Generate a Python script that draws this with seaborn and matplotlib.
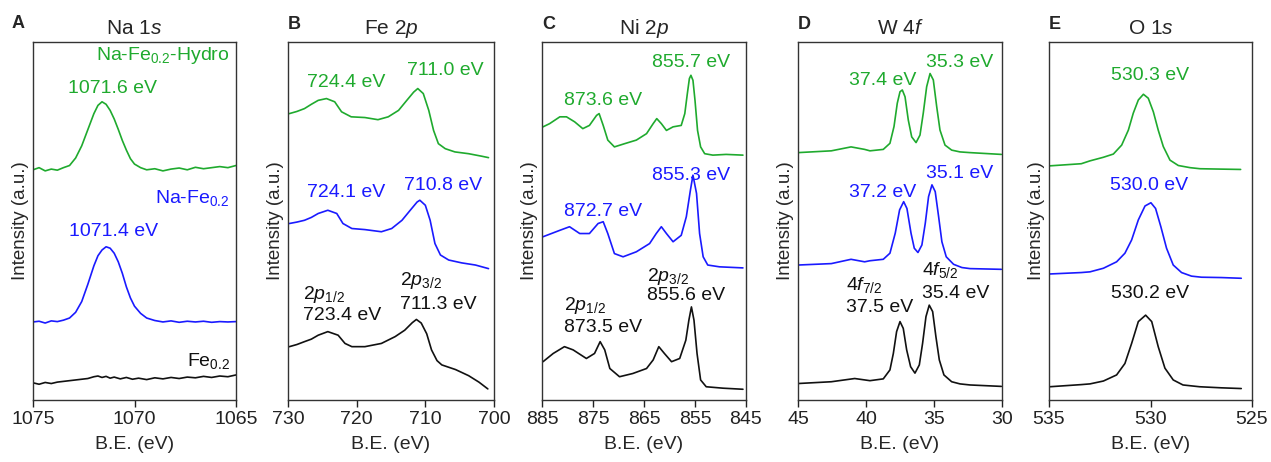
import pandas as pd
import matplotlib
matplotlib.use("Agg")
import matplotlib.pyplot as plt
import seaborn as sns

sns.set_style("ticks")
plt.rcParams["font.family"] = ["Liberation Sans", "DejaVu Sans"]
plt.rcParams["mathtext.fontset"] = "custom"
plt.rcParams["mathtext.rm"] = "Liberation Sans"
plt.rcParams["mathtext.it"] = "Liberation Sans:italic"

GREEN = "#1faa2e"
BLUE = "#1a1aff"
BLACK = "#111111"
samples = ["Na-Fe0.2-Hydro", "Na-Fe0.2", "Fe0.2"]
palette = {"Na-Fe0.2-Hydro": GREEN, "Na-Fe0.2": BLUE, "Fe0.2": BLACK}

# ---- Na 1s ----
na_x_hydro = [1075.0, 1074.7, 1074.4, 1074.1, 1073.8, 1073.5, 1073.2, 1072.9, 1072.6, 1072.3, 1072.0,
              1071.8, 1071.6, 1071.4, 1071.2, 1071.0, 1070.8, 1070.6, 1070.4, 1070.2, 1070.0, 1069.7,
              1069.4, 1069.0, 1068.6, 1068.2, 1067.8, 1067.4, 1067.0, 1066.6, 1066.2, 1065.8, 1065.4, 1065.0]
na_y_hydro = [64.3, 64.9, 64.0, 64.5, 64.2, 64.9, 65.5, 67.6, 71.0, 75.5, 80.0,
              82.3, 83.3, 82.6, 80.9, 78.5, 75.6, 72.5, 69.8, 67.4, 65.9, 64.9,
              64.3, 64.6, 64.0, 64.5, 64.8, 64.3, 65.0, 64.6, 64.9, 65.2, 64.9, 65.5]
na_x_nafe = na_x_hydro
na_y_nafe = [21.8, 22.0, 21.5, 22.1, 21.9, 22.3, 22.9, 24.5, 27.5, 32.3, 37.5,
             40.3, 41.9, 42.8, 42.4, 41.0, 38.6, 35.4, 31.6, 28.5, 26.2, 24.2,
             22.9, 22.2, 21.8, 22.1, 21.7, 22.0, 21.8, 22.0, 21.7, 21.9, 21.8, 21.9]
na_x_fe = [1075.0, 1074.7, 1074.4, 1074.1, 1073.8, 1073.5, 1073.2, 1072.9, 1072.6, 1072.3, 1072.0,
           1071.8, 1071.6, 1071.4, 1071.2, 1071.0, 1070.7, 1070.4, 1070.1, 1069.8, 1069.4, 1069.0,
           1068.6, 1068.2, 1067.8, 1067.4, 1067.0, 1066.6, 1066.2, 1065.8, 1065.4, 1065.0]
na_y_fe = [4.8, 4.4, 4.9, 4.6, 5.0, 5.2, 5.4, 5.6, 5.8, 6.0, 6.5,
           6.7, 6.3, 6.6, 6.1, 6.4, 5.9, 6.3, 5.8, 6.1, 5.7, 6.2,
           5.9, 6.3, 6.0, 6.4, 6.2, 6.6, 6.3, 6.7, 6.5, 7.0]

# ---- Fe 2p ----
fe_x_hydro = [729.8, 728.7, 727.6, 726.6, 725.6, 724.4, 723.2, 722.2, 720.8, 718.8, 716.9, 715.4,
              713.9, 712.7, 711.7, 711.1, 710.3, 709.5, 708.8, 708.1, 707.1, 705.7, 703.7,
              701.8, 700.8]
fe_y_hydro = [80.0, 80.6, 81.4, 82.6, 83.7, 84.2, 83.3, 80.5, 79.1, 78.9, 78.3, 79.1,
              80.9, 83.7, 86.0, 87.0, 85.6, 80.9, 75.3, 71.6, 70.2, 69.3, 68.8,
              68.1, 67.7]
fe_x_nafe = [729.8, 728.7, 727.6, 726.6, 725.6, 724.2, 722.9, 722.0, 720.7, 718.8, 716.4, 714.9,
             713.4, 712.2, 711.2, 710.8, 710.0, 709.3, 708.6, 707.8, 706.6, 704.7, 702.7, 700.8]
fe_y_nafe = [49.3, 49.7, 50.2, 51.0, 52.1, 53.0, 52.1, 49.3, 47.9, 47.6, 47.0, 47.9,
             50.2, 53.0, 55.3, 55.8, 54.4, 50.2, 43.7, 40.5, 39.1, 38.3, 37.7, 36.7]
fe_x_fe = [729.8, 728.7, 727.6, 726.6, 725.6, 724.2, 722.7, 721.7, 720.7, 718.8, 716.4, 714.4,
           713.0, 711.9, 711.3, 710.6, 709.8, 709.1, 708.3, 707.6, 705.6, 703.7, 702.2, 700.9]
fe_y_fe = [14.9, 15.5, 16.3, 17.0, 18.1, 19.1, 18.1, 15.8, 14.9, 14.9, 15.8, 17.7,
           19.5, 21.6, 22.5, 21.5, 18.5, 14.0, 11.0, 9.8, 8.5, 6.8, 5.0, 3.1]

# ---- Ni 2p ----
ni_x_hydro = [884.8, 883.5, 881.5, 880.2, 878.6, 877.0, 875.7, 874.3, 873.8, 873.0, 872.1, 870.8,
              868.8, 866.5, 864.5, 863.2, 862.5, 861.6, 860.6, 859.3, 857.7, 857.0, 856.5, 856.1,
              855.8, 855.4, 855.0, 854.5, 853.9, 853.1, 851.5, 848.9, 845.6]
ni_y_hydro = [76.3, 77.2, 79.1, 79.1, 77.7, 75.8, 76.7, 79.5, 80.0, 76.7, 72.6, 70.7,
              71.6, 72.6, 74.4, 77.2, 78.6, 77.2, 75.3, 76.3, 76.7, 80.0, 85.6, 89.8,
              90.7, 89.3, 83.7, 75.3, 70.7, 68.8, 68.4, 68.6, 68.4]
ni_x_nafe = [884.8, 881.5, 879.6, 877.6, 875.7, 874.0, 873.0, 872.1, 870.8, 869.1, 866.5, 863.9,
             862.6, 861.6, 860.6, 859.3, 857.7, 856.7, 855.9, 855.4, 854.7, 854.1, 853.4, 852.5,
             850.2, 845.6]
ni_y_nafe = [45.6, 47.4, 48.4, 46.5, 46.5, 49.3, 49.8, 46.5, 40.9, 40.0, 41.4, 43.7,
             46.5, 48.4, 46.5, 44.2, 46.0, 51.2, 58.6, 62.8, 57.7, 46.5, 40.0, 37.7,
             37.2, 36.9]
ni_x_fe = [884.8, 882.8, 880.6, 878.9, 876.3, 874.7, 873.6, 872.7, 871.7, 869.8, 867.2, 864.5,
           863.2, 862.1, 861.0, 859.6, 858.0, 856.8, 856.2, 855.7, 855.2, 854.6, 853.9, 852.8,
           849.5, 845.6]
ni_y_fe = [10.7, 13.0, 14.9, 14.0, 11.6, 13.0, 16.3, 14.0, 8.8, 6.5, 7.4, 8.8,
           11.2, 14.9, 13.0, 10.7, 11.6, 16.7, 22.3, 26.0, 22.3, 13.0, 5.6, 3.7,
           3.3, 3.0]

# ---- W 4f ----
w_x_hydro = [45.0, 42.55, 41.1, 40.1, 39.71, 38.73, 38.24, 37.94, 37.7, 37.5, 37.33, 37.13,
             36.89, 36.64, 36.32, 36.03, 35.79, 35.54, 35.29, 35.05, 34.8, 34.56, 34.19,
             33.7, 33.09, 32.35, 30.05]
w_y_hydro = [69.1, 69.6, 70.7, 70.0, 69.6, 70.0, 71.7, 76.4, 82.9, 86.1, 86.6, 84.7,
             78.2, 73.5, 71.9, 74.0, 80.1, 87.5, 91.2, 89.4, 81.9, 75.4, 71.2,
             69.8, 69.3, 69.1, 68.6]
w_x_nafe = [45.0, 42.55, 41.1, 40.1, 39.71, 38.73, 38.24, 37.85, 37.53, 37.23, 36.99, 36.69,
            36.45, 36.18, 35.89, 35.64, 35.4, 35.15, 34.91, 34.66, 34.42, 34.1, 33.56,
            32.95, 32.35, 30.05]
w_y_nafe = [37.7, 38.1, 39.3, 38.6, 38.9, 39.3, 41.0, 46.6, 53.1, 55.4, 53.5, 46.6,
            42.4, 41.2, 43.3, 49.4, 56.8, 60.1, 58.2, 51.2, 44.2, 40.0, 37.9,
            37.0, 36.7, 36.5]
w_x_fe = [45.0, 42.55, 40.83, 39.71, 38.73, 38.24, 37.99, 37.75, 37.5, 37.26, 37.01, 36.72,
          36.4, 36.08, 35.84, 35.59, 35.35, 35.1, 34.86, 34.61, 34.27, 33.7, 33.09,
          32.35, 30.05]
w_y_fe = [4.6, 5.1, 6.0, 5.4, 5.9, 8.4, 13.0, 19.1, 21.9, 20.0, 14.0, 9.3,
          7.5, 9.8, 15.8, 23.3, 26.5, 24.7, 17.7, 11.2, 7.0, 5.1, 4.5,
          4.2, 3.8]

# ---- O 1s ----
o_x_hydro = [534.97, 533.41, 532.98, 532.32, 531.83, 531.42, 531.09, 530.85, 530.6, 530.35,
             530.11, 529.86, 529.62, 529.37, 529.04, 528.63, 528.05, 527.56, 526.6, 525.56]
o_y_hydro = [65.4, 66.0, 66.8, 67.8, 68.7, 71.2, 75.4, 80.1, 83.8, 85.4,
             84.3, 80.5, 75.4, 70.8, 67.0, 65.5, 64.9, 64.6, 64.5, 64.4]
o_x_nafe = [534.97, 533.41, 532.98, 532.32, 531.67, 531.26, 530.93, 530.6, 530.27, 529.98,
            529.75, 529.49, 529.21, 528.88, 528.47, 527.98, 527.49, 526.5, 525.53]
o_y_nafe = [35.2, 35.6, 35.8, 36.8, 38.6, 41.0, 44.7, 50.3, 54.2, 55.1,
            53.5, 48.4, 42.4, 37.7, 35.6, 34.6, 34.3, 34.2, 34.0]
o_x_fe = [534.97, 533.41, 532.98, 532.32, 531.67, 531.26, 530.93, 530.6, 530.24, 529.94,
          529.62, 529.29, 528.88, 528.4, 527.58, 526.5, 525.53]
o_y_fe = [3.7, 4.3, 4.5, 5.3, 7.0, 10.2, 15.8, 21.9, 23.7, 21.9,
          14.9, 8.9, 5.6, 4.2, 3.7, 3.4, 3.2]

panels = [
    ("A", "Na 1$\\mathit{s}$", (1075, 1065), [1075, 1070, 1065],
     [(na_x_hydro, na_y_hydro), (na_x_nafe, na_y_nafe), (na_x_fe, na_y_fe)]),
    ("B", "Fe 2$\\mathit{p}$", (730, 700), [730, 720, 710, 700],
     [(fe_x_hydro, fe_y_hydro), (fe_x_nafe, fe_y_nafe), (fe_x_fe, fe_y_fe)]),
    ("C", "Ni 2$\\mathit{p}$", (885, 845), [885, 875, 865, 855, 845],
     [(ni_x_hydro, ni_y_hydro), (ni_x_nafe, ni_y_nafe), (ni_x_fe, ni_y_fe)]),
    ("D", "W 4$\\mathit{f}$", (45, 30), [45, 40, 35, 30],
     [(w_x_hydro, w_y_hydro), (w_x_nafe, w_y_nafe), (w_x_fe, w_y_fe)]),
    ("E", "O 1$\\mathit{s}$", (535, 525), [535, 530, 525],
     [(o_x_hydro, o_y_hydro), (o_x_nafe, o_y_nafe), (o_x_fe, o_y_fe)]),
]

# peak annotations: (x, y, text, color, ha)
p12 = "2$\\mathit{p}_{\\mathrm{1/2}}$"
p32 = "2$\\mathit{p}_{\\mathrm{3/2}}$"
notes = [
    [(1065.3, 96.3, "Na-Fe$_{\\mathrm{0.2}}$-Hydro", GREEN, "right"),
     (1071.1, 87.0, "1071.6 eV", GREEN, "center"),
     (1065.3, 56.3, "Na-Fe$_{\\mathrm{0.2}}$", BLUE, "right"),
     (1071.05, 47.0, "1071.4 eV", BLUE, "center"),
     (1065.3, 10.9, "Fe$_{\\mathrm{0.2}}$", BLACK, "right")],
    [(721.5, 88.8, "724.4 eV", GREEN, "center"),
     (707.1, 92.1, "711.0 eV", GREEN, "center"),
     (721.5, 57.9, "724.1 eV", BLUE, "center"),
     (707.35, 60.0, "710.8 eV", BLUE, "center"),
     (727.8, 29.5, p12, BLACK, "left"),
     (727.8, 23.7, "723.4 eV", BLACK, "left"),
     (713.7, 33.5, p32, BLACK, "left"),
     (713.7, 26.7, "711.3 eV", BLACK, "left")],
    [(873.0, 83.7, "873.6 eV", GREEN, "center"),
     (855.7, 94.4, "855.7 eV", GREEN, "center"),
     (873.0, 52.6, "872.7 eV", BLUE, "center"),
     (855.7, 62.8, "855.3 eV", BLUE, "center"),
     (880.7, 26.3, p12, BLACK, "left"),
     (880.7, 20.3, "873.5 eV", BLACK, "left"),
     (864.5, 34.6, p32, BLACK, "left"),
     (864.5, 29.3, "855.6 eV", BLACK, "left")],
    [(38.75, 89.3, "37.4 eV", GREEN, "center"),
     (33.1, 94.4, "35.3 eV", GREEN, "center"),
     (38.75, 58.1, "37.2 eV", BLUE, "center"),
     (33.1, 63.3, "35.1 eV", BLUE, "center"),
     (41.5, 32.0, "4$\\mathit{f}_{\\mathrm{7/2}}$", BLACK, "left"),
     (41.5, 25.8, "37.5 eV", BLACK, "left"),
     (35.9, 36.4, "4$\\mathit{f}_{\\mathrm{5/2}}$", BLACK, "left"),
     (35.9, 29.8, "35.4 eV", BLACK, "left")],
    [(530.0, 90.7, "530.3 eV", GREEN, "center"),
     (530.05, 60.0, "530.0 eV", BLUE, "center"),
     (530.0, 29.8, "530.2 eV", BLACK, "center")],
]

fig = plt.figure(figsize=(12.71, 4.62), dpi=100)
lefts = [33, 288, 542, 798, 1049]
widths = [203, 206, 204, 204, 203]

for i, (letter, title, xlim, ticks, curves) in enumerate(panels):
    ax = fig.add_axes([lefts[i] / 1271, 62 / 462, widths[i] / 1271, 358 / 462])
    rows = []
    for name, (xs, ys) in zip(samples, curves):
        rows += [{"BE": x, "I": y, "sample": name} for x, y in zip(xs, ys)]
    df = pd.DataFrame(rows)
    sns.lineplot(data=df, x="BE", y="I", hue="sample", palette=palette, sort=False,
                 estimator=None, linewidth=1.2, legend=False, ax=ax)
    ax.set_xlim(*xlim)
    ax.set_ylim(0, 100)
    ax.set_xticks(ticks)
    ax.set_yticks([])
    ax.tick_params(axis="x", direction="out", length=5, width=1, labelsize=14, pad=3, colors="#222222")
    for s in ax.spines.values():
        s.set_linewidth(1.0)
        s.set_color("#333333")
    ax.set_xlabel("B.E. (eV)", fontsize=14, labelpad=6)
    ax.set_ylabel("Intensity (a.u.)", fontsize=13.5, labelpad=3)
    ax.set_title(title, fontsize=15, pad=6)
    if i == 0:
        ax.text(12 / 1271, 1 - 24 / 462, letter, transform=fig.transFigure, fontsize=13,
                fontweight="bold", ha="left", va="center")
    else:
        ax.text(0.0, 1.05, letter, transform=ax.transAxes, fontsize=13, fontweight="bold",
                ha="left", va="center")
    for x, y, txt, col, ha in notes[i]:
        ax.text(x, y, txt, color=col, ha=ha, va="center", fontsize=14)

fig.savefig("out.png", dpi=100)
